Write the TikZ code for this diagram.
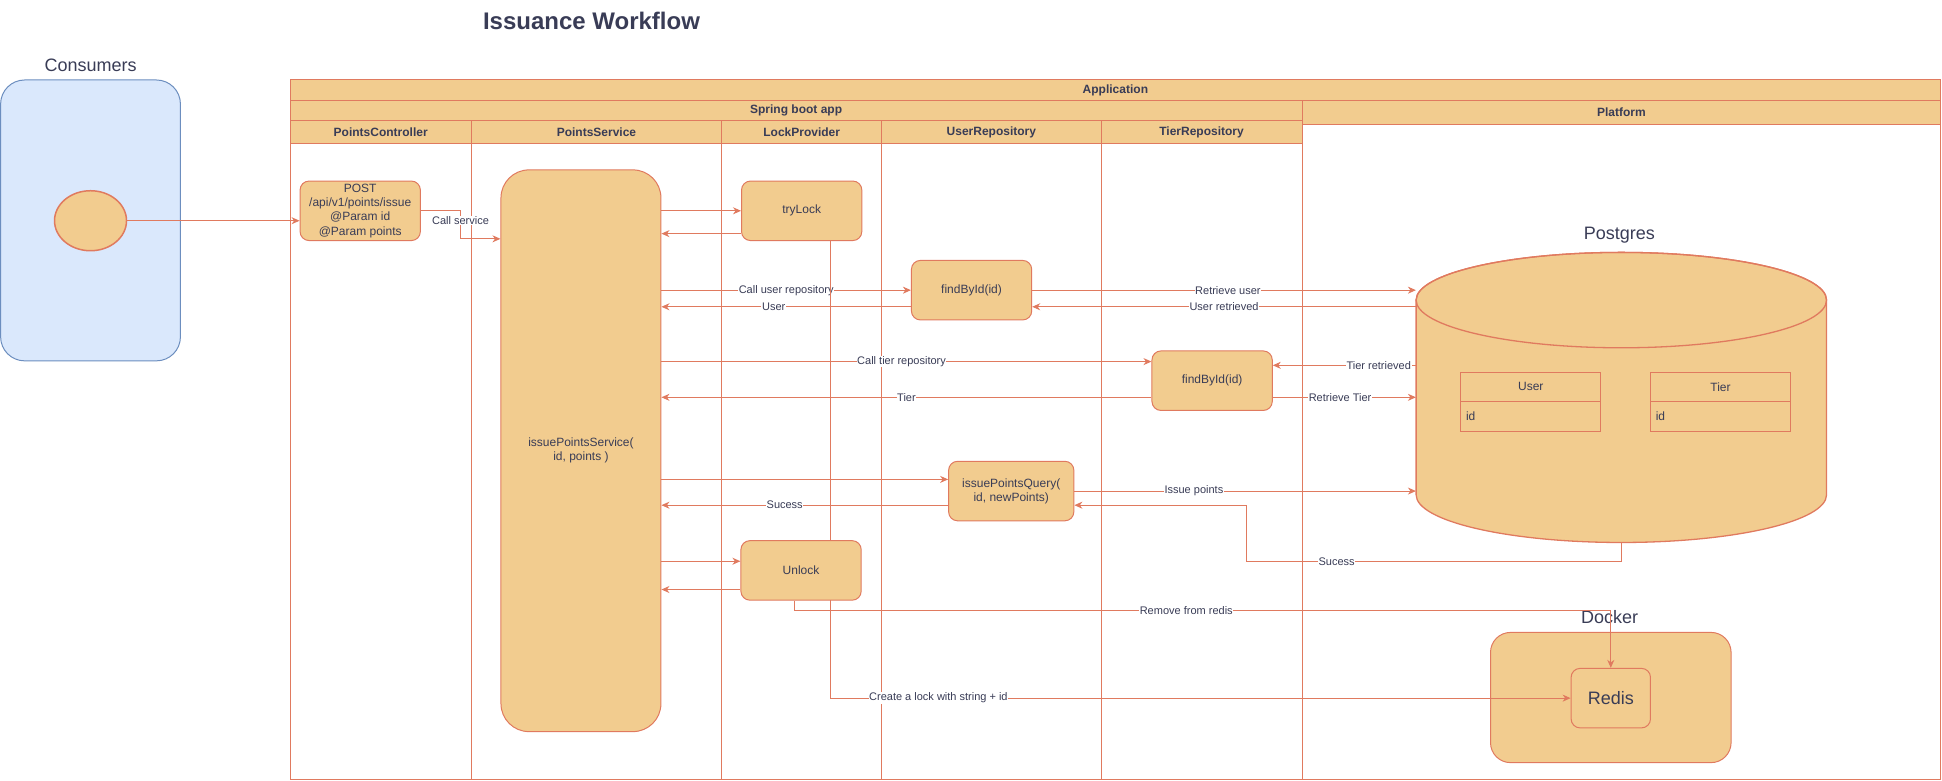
\documentclass[tikz,border=0pt]{standalone}
\usepackage{fontspec}
\setmainfont{Liberation Sans}
\usetikzlibrary{fit,calc,arrows.meta,shapes.geometric}
\definecolor{fillc}{HTML}{F2CC8F}
\definecolor{linec}{HTML}{E07A5F}
\definecolor{textc}{HTML}{393C56}
\definecolor{bluef}{HTML}{DAE8FC}
\definecolor{bluel}{HTML}{6C8EBF}
\pgfdeclarelayer{lanes}
\pgfdeclarelayer{edges}
\pgfsetlayers{lanes,edges,main}
\begin{document}
\begin{tikzpicture}[x=1.24pt,y=-1.24pt,
  every node/.style={text=textc},
  wh/.style 2 args={minimum width=#1*1.24pt, minimum height=#2*1.24pt},
  box/.style={draw=linec, fill=fillc, line width=1pt, rounded corners=9pt, inner sep=0pt, align=center, font=\fontsize{12}{14.2}\selectfont},
  hdr/.style={draw=linec, fill=fillc, line width=1pt, inner sep=0pt, font=\bfseries\fontsize{12}{14}\selectfont},
  lanebody/.style={draw=linec, line width=1pt, inner sep=0pt},
  tbl/.style={draw=linec, fill=fillc, line width=1pt, inner sep=0pt, font=\fontsize{12}{14}\selectfont},
  arr/.style={draw=linec, line width=1pt, -{Stealth[length=8pt,width=7pt,inset=2.5pt]}},
  lbl/.style={fill=white, inner sep=0.6pt, font=\fontsize{11}{13}\selectfont},
  big/.style={font=\fontsize{18}{21}\selectfont},
]
\useasboundingbox (0,0) rectangle (1566.1,629.8);

% ---------- swimlanes ----------
\begin{pgfonlayer}{lanes}
\node[lanebody, fit={(234,115.6)(380,629)}] (bpc) {};
\node[lanebody, fit={(380,115.6)(582,629)}] (bps) {};
\node[lanebody, fit={(582,115.6)(711,629)}] (blp) {};
\node[lanebody, fit={(711,115.6)(888,629)}] (bur) {};
\node[lanebody, fit={(888,115.6)(1050,629)}] (btr) {};
\node[lanebody, fit={(1050,100)(1565,629)}] (bplat) {};
\node[hdr, wh={1331}{16.7}] (app) at (899.5,72.85) {Application};
\node[hdr, wh={816}{16.3}] (spring) at (642,89.35) {Spring boot app};
\node[hdr, wh={515}{18.8}] (platform) at (1307.5,90.6) {Platform};
\node[hdr, wh={146}{18.1}] (hpc) at (307,106.55) {PointsController};
\node[hdr, wh={202}{18.1}] (hps) at (481,106.55) {PointsService};
\node[hdr, wh={129}{18.1}] (hlp) at (646.5,106.55) {LockProvider};
\node[hdr, wh={177}{18.1}] (hur) at (799.5,106.55) {UserRepository};
\node[hdr, wh={162}{18.1}] (htr) at (969,106.55) {TierRepository};
% Docker container
\node[box, rounded corners=20pt, wh={194}{105}] (docker) at (1299,562.5) {};
\node[big] (dockerlbl) at (1298,498) {Docker};
\end{pgfonlayer}

% ---------- titles ----------
\node[font=\bfseries\fontsize{24}{28}\selectfont] (title) at (477,16.5) {Issuance Workflow};
\node[big] (conslbl) at (73,53) {Consumers};

% ---------- consumers ----------
\node[draw=bluel, fill=bluef, line width=1pt, rounded corners=24pt, inner sep=0pt, wh={145}{226.5}] (consumers) at (73,177.75) {};
\node[ellipse, draw=linec, fill=fillc, line width=1.5pt, minimum width=72pt, minimum height=60pt, inner sep=0pt] (client) at (73,178) {};

% ---------- application nodes ----------
\node[box, wh={97}{48}] (post) at (290.5,170) {POST\\/api/v1/points/issue\\@Param id\\@Param points};
\node[box, rounded corners=28pt, wh={129}{453}] (svc) at (468.5,363.5) {issuePointsService(\\id, points )};
\node[box, wh={97}{48}] (trylock) at (646.5,170) {tryLock};
\node[box, wh={97}{48}] (findu) at (783.5,234) {findById(id)};
\node[box, wh={97}{48}] (findt) at (977.5,307) {findById(id)};
\node[box, wh={101}{48}] (query) at (815.5,396) {issuePointsQuery(\\id, newPoints)};
\node[box, wh={97}{48}] (unlock) at (646,460) {Unlock};

% ---------- Postgres ----------
\node[big] (pglbl) at (1306,190) {Postgres};
\node[inner sep=0pt, wh={331}{234}] (pg) at (1307.5,320.5) {};
\filldraw[draw=linec, fill=fillc, line width=1.3pt] (1142,242) -- (1142,399)
  arc[start angle=180, end angle=360, x radius=205.22pt, y radius=47.7pt] -- (1473,242)
  arc[start angle=0, end angle=180, x radius=205.22pt, y radius=47.7pt] -- cycle;
\draw[linec, line width=1.3pt] (1307.5,242) ellipse[x radius=205.22pt, y radius=47.7pt];
\node[tbl, wh={113}{24}] (userh) at (1234.5,312) {User};
\node[tbl, wh={113}{24}] (userr) at (1234.5,336) {};
\node[anchor=west, font=\fontsize{12}{14}\selectfont, inner sep=0pt] (userid) at ($(userr.west)+(4.5,0)$) {id};
\node[tbl, wh={113}{24}] (tierh) at (1387.5,312) {Tier};
\node[tbl, wh={113}{24}] (tierr) at (1387.5,336) {};
\node[anchor=west, font=\fontsize{12}{14}\selectfont, inner sep=0pt] (tierid) at ($(tierr.west)+(4.5,0)$) {id};

% ---------- Redis ----------
\node[box, wh={64}{48}, font=\fontsize{18}{21}\selectfont] (redis) at (1299,563) {Redis};

% consumer call (drawn above the consumer box)
\draw[arr] (client.east) -- (client.east -| post.west);

% ---------- connectors ----------
\begin{pgfonlayer}{edges}
\draw[arr] (post.east) -- ++(32,0) |- ($(svc.north west)+(0,56)$) node[lbl,pos=0.17]{Call service};
\draw[arr] (svc.east |- trylock.west) -- (trylock.west);
\draw[arr] ($(trylock.south west)+(0,-6)$) coordinate (a4) -- (svc.east |- a4);
\draw[arr] (svc.east |- findu.west) -- (findu.west) node[lbl,pos=0.5]{Call user repository};
\draw[arr] ($(findu.south west)+(0,-11)$) coordinate (a6) -- (svc.east |- a6) node[lbl,pos=0.55]{User};
\draw[arr] (findu.east) -- (findu.east -| pg.west) node[lbl,pos=0.51]{Retrieve user};
\draw[arr] ($(findu.south east)+(0,-11)$) coordinate (a8) (pg.west |- a8) -- (a8) node[lbl,pos=0.5]{User retrieved};
\draw[arr] ($(findt.north west)+(0,9)$) coordinate (a9) (svc.east |- a9) -- (a9) node[lbl,pos=0.49]{Call tier repository};
\draw[arr] ($(findt.south west)+(0,-11)$) coordinate (a10) -- (svc.east |- a10) node[lbl,pos=0.5]{Tier};
\draw[arr] ($(findt.north east)+(0,12)$) coordinate (a11) (pg.west |- a11) -- (a11) node[lbl,pos=0.26]{Tier retrieved};
\draw[arr] ($(findt.south east)+(0,-11)$) coordinate (a12) -- (pg.west |- a12) node[lbl,pos=0.47]{Retrieve Tier};
\draw[arr] ($(query.north west)+(0,15)$) coordinate (a13) (svc.east |- a13) -- (a13);
\draw[arr] ($(query.south west)+(0,-13)$) coordinate (a14) -- (svc.east |- a14) node[lbl,pos=0.57]{Sucess};
\draw[arr] (query.east) -- (query.east -| pg.west) node[lbl,pos=0.35]{Issue points};
\draw[arr] (pg.south) -- ++(0,15.5) -| ($(query.south east)+(139,-13)$) node[lbl,pos=0.38]{Sucess} -- ($(query.south east)+(0,-13)$);
\draw[arr] ($(unlock.north west)+(0,17)$) coordinate (a17) (svc.east |- a17) -- (a17);
\draw[arr] ($(unlock.south west)+(0,-9)$) coordinate (a18) -- (svc.east |- a18);
\draw[arr] ($(unlock.south west)+(43.5,0)$) -- ++(0,8) -| (redis.north) node[lbl,pos=0.24]{Remove from redis};
\draw[arr] ($(trylock.south west)+(72,0)$) |- (redis.west) node[lbl,pos=0.573]{Create a lock with string + id};
\end{pgfonlayer}
\end{tikzpicture}
\end{document}
